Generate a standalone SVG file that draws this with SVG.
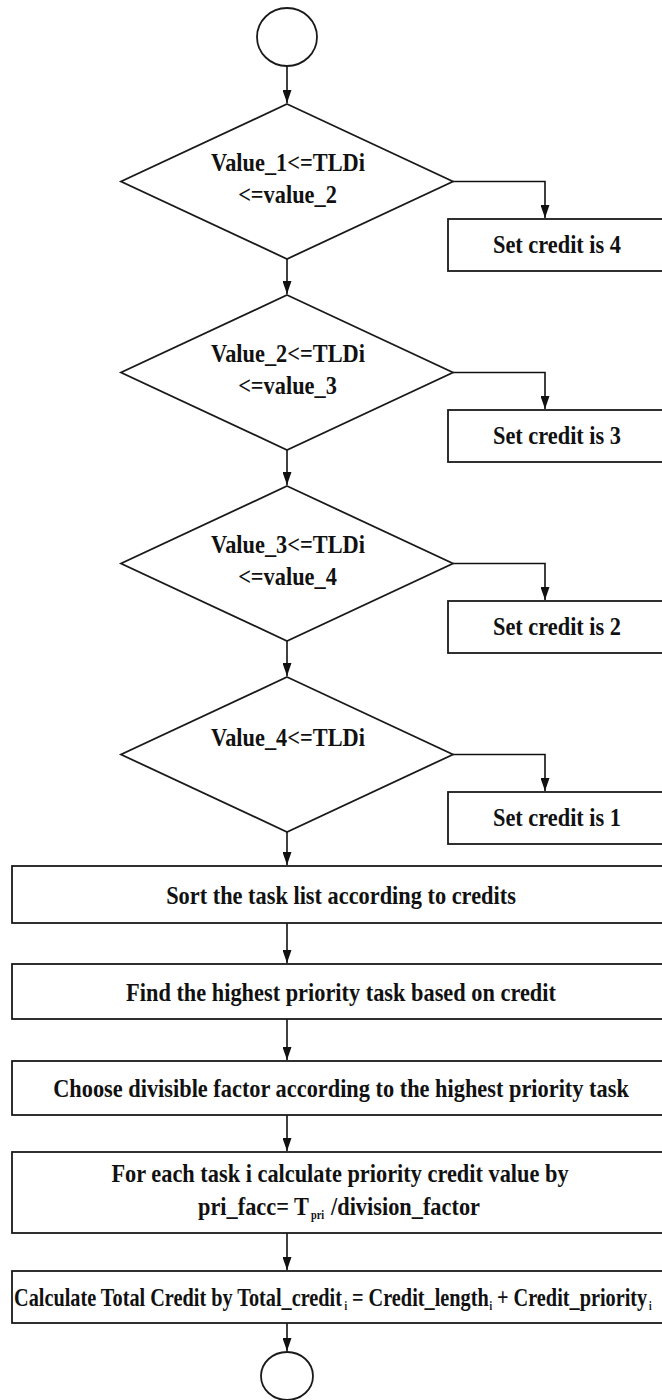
<svg xmlns="http://www.w3.org/2000/svg" width="662" height="1400" viewBox="0 0 662 1400">
<style>
.s{fill:#fff;stroke:#1a1a1a;stroke-width:1.8}
.c{fill:none;stroke:#111;stroke-width:1.6}
.t{font-family:"Liberation Serif","Times New Roman",serif;font-weight:bold;font-size:26px;fill:#111;text-anchor:middle}
.l{font-family:"Liberation Serif","Times New Roman",serif;font-weight:bold;font-size:26px;fill:#111;text-anchor:start}
.sub{font-family:"Liberation Serif","Times New Roman",serif;font-weight:bold;font-size:12px;fill:#111;text-anchor:start}
</style>
<defs>
<marker id="ah" viewBox="0 0 10 10" refX="10" refY="5" markerWidth="13" markerHeight="9" markerUnits="userSpaceOnUse" orient="auto" preserveAspectRatio="none">
<path d="M0,0 L10,5 L0,10 z" fill="#111"/>
</marker>
</defs>
<rect width="662" height="1400" fill="#fff"/>
<g id="connectors">
<line class="c" x1="287" y1="66" x2="287" y2="103" marker-end="url(#ah)"/>
<line class="c" x1="287" y1="259" x2="287" y2="294" marker-end="url(#ah)"/>
<line class="c" x1="287" y1="450" x2="287" y2="485" marker-end="url(#ah)"/>
<line class="c" x1="287" y1="641" x2="287" y2="676" marker-end="url(#ah)"/>
<line class="c" x1="287" y1="832" x2="287" y2="865" marker-end="url(#ah)"/>
<line class="c" x1="287" y1="923" x2="287" y2="963" marker-end="url(#ah)"/>
<line class="c" x1="287" y1="1019" x2="287" y2="1060" marker-end="url(#ah)"/>
<line class="c" x1="287" y1="1115" x2="287" y2="1151" marker-end="url(#ah)"/>
<line class="c" x1="287" y1="1233" x2="287" y2="1270" marker-end="url(#ah)"/>
<line class="c" x1="287" y1="1323" x2="287" y2="1351" marker-end="url(#ah)"/>
<polyline class="c" points="453,181.5 545,181.5 545,218" marker-end="url(#ah)"/>
<polyline class="c" points="453,372.5 545,372.5 545,409" marker-end="url(#ah)"/>
<polyline class="c" points="453,563.5 545,563.5 545,600" marker-end="url(#ah)"/>
<polyline class="c" points="453,754.5 545,754.5 545,791" marker-end="url(#ah)"/>
</g>
<g id="start">
<ellipse class="s" cx="287" cy="37" rx="30" ry="29"/>
</g>
<g id="d1">
<polygon class="s" points="287,104 453,181.5 287,259 121,181.5"/>
<text class="t" transform="translate(288,171) scale(0.86,1)">Value_1&lt;=TLDi</text>
<text class="t" transform="translate(287.5,203) scale(0.86,1)">&lt;=value_2</text>
</g>
<g id="b4">
<rect class="s" x="448" y="219" width="230" height="52"/>
<text class="t" transform="translate(557,253) scale(0.86,1)">Set credit is 4</text>
</g>
<g id="d2">
<polygon class="s" points="287,295 453,372.5 287,450 121,372.5"/>
<text class="t" transform="translate(288,362) scale(0.86,1)">Value_2&lt;=TLDi</text>
<text class="t" transform="translate(287.5,394) scale(0.86,1)">&lt;=value_3</text>
</g>
<g id="b3">
<rect class="s" x="448" y="410" width="230" height="52"/>
<text class="t" transform="translate(557,444) scale(0.86,1)">Set credit is 3</text>
</g>
<g id="d3">
<polygon class="s" points="287,486 453,563.5 287,641 121,563.5"/>
<text class="t" transform="translate(288,553) scale(0.86,1)">Value_3&lt;=TLDi</text>
<text class="t" transform="translate(287.5,585) scale(0.86,1)">&lt;=value_4</text>
</g>
<g id="b2">
<rect class="s" x="448" y="601" width="230" height="52"/>
<text class="t" transform="translate(557,635) scale(0.86,1)">Set credit is 2</text>
</g>
<g id="d4">
<polygon class="s" points="287,677 453,754.5 287,832 121,754.5"/>
<text class="t" transform="translate(288,746) scale(0.86,1)">Value_4&lt;=TLDi</text>
</g>
<g id="b1">
<rect class="s" x="448" y="792" width="230" height="52"/>
<text class="t" transform="translate(557,826) scale(0.86,1)">Set credit is 1</text>
</g>
<g id="sort">
<rect class="s" x="12" y="866" width="666" height="57"/>
<text class="t" transform="translate(341,904) scale(0.86,1)">Sort the task list according to credits</text>
</g>
<g id="find">
<rect class="s" x="12" y="964" width="666" height="55"/>
<text class="t" transform="translate(341,1001) scale(0.86,1)">Find the highest priority task based on credit</text>
</g>
<g id="choose">
<rect class="s" x="12" y="1061" width="666" height="54"/>
<text class="t" transform="translate(341,1097) scale(0.86,1)">Choose divisible factor according to the highest priority task</text>
</g>
<g id="foreach">
<rect class="s" x="12" y="1152" width="666" height="81"/>
<text class="t" transform="translate(340,1182) scale(0.86,1)">For each task i calculate priority credit value by</text>
<text class="l" transform="translate(198,1215) scale(0.86,1)">pri_facc= T</text>
<text class="sub" transform="translate(311,1219) scale(0.86,1)" font-size="11">pri</text>
<text class="l" transform="translate(331,1215) scale(0.86,1)">/division_factor</text>
</g>
<g id="calc">
<rect class="s" x="12" y="1271" width="666" height="52"/>
<text class="l" transform="translate(14,1306) scale(0.78,1)">Calculate Total Credit by Total_credit</text>
<text class="sub" transform="translate(344.5,1310) scale(0.78,1)">i</text>
<text class="l" transform="translate(352,1306) scale(0.78,1)">= Credit_length</text>
<text class="sub" transform="translate(489.5,1310) scale(0.78,1)">i</text>
<text class="l" transform="translate(497,1306) scale(0.78,1)">+ Credit_priority</text>
<text class="sub" transform="translate(649,1310) scale(0.78,1)">i</text>
</g>
<g id="end">
<ellipse class="s" cx="287" cy="1376" rx="26" ry="24"/>
</g>
</svg>
